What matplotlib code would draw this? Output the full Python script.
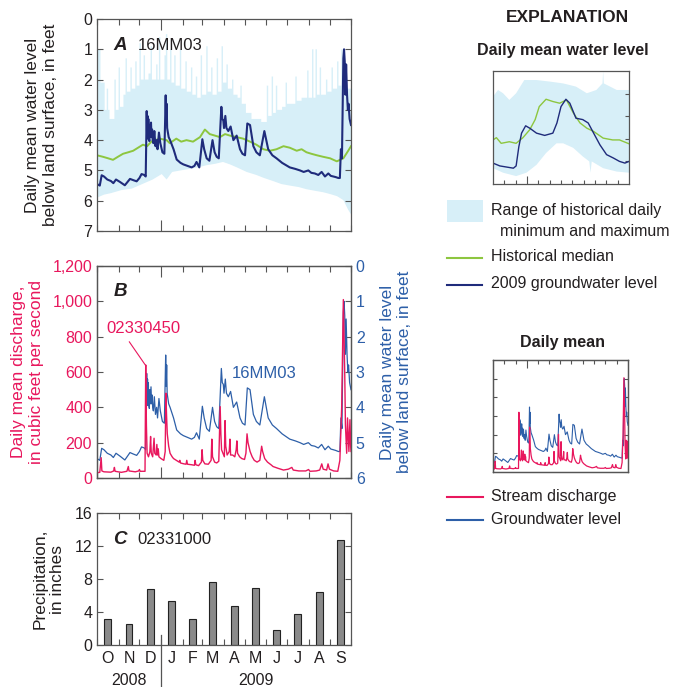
import numpy as np
import matplotlib
matplotlib.use("Agg")
import matplotlib.pyplot as plt
from matplotlib import cbook

plt.rcParams['font.family'] = ['Liberation Sans', 'DejaVu Sans']

# month boundaries, days since 1 Oct 2008
month_edges = [0, 31, 61, 92, 123, 151, 182, 212, 243, 273, 304, 335, 365]
month_letters = ['O', 'N', 'D', 'J', 'F', 'M', 'A', 'M', 'J', 'J', 'A', 'S']

# panel C: monthly precipitation, inches
precip = [3.2, 2.6, 6.8, 5.3, 3.1, 7.6, 4.7, 6.9, 1.8, 3.7, 6.4, 12.7]

# 2009 groundwater level, well 16MM03 (feet below land surface)
gw_days = [0, 4, 6.7, 10, 14.8, 20, 23.5, 27.3, 33, 40, 47.4, 52, 57, 61, 64, 68, 70,
           71.4, 72, 72.6, 73.2, 73.8, 74.4, 75.2, 76, 76.6, 77.6, 78.4, 79.2, 80, 81, 82.4,
           84, 85.7, 87, 89, 91, 94, 96.8, 98.7, 99.4, 100.1, 100.8, 101.5, 103, 105,
           110, 114.5, 120, 124, 130, 136, 140, 143, 147, 151.4, 154, 157.6, 161.5, 166,
           169, 172, 175, 178.7, 180, 181.5, 182.5, 184.4, 186, 188.7, 192, 196, 200.7,
           205.5, 209, 212.7, 216, 219.9, 224.7, 229, 234, 240.5, 246, 252, 258, 266, 277,
           285, 291.7, 297, 303.7, 308, 313, 318, 322.8, 327.6, 332.4, 336, 339.6, 343,
           346.8, 349, 350.5, 352, 354, 355, 356, 357, 358, 359.3, 360.5, 361.5, 363, 365]
gw_level = [5.45, 5.5, 5.16, 5.2, 5.3, 5.35, 5.42, 5.3, 5.38, 5.49, 5.28, 5.32, 5.36, 5.25,
            5.12, 5.15, 5.2,
            3.04, 3.9, 3.2, 3.95, 3.3, 3.9, 4.03, 3.5, 3.9, 3.42, 3.9, 3.65, 4.0, 4.1, 3.7,
            4.2, 4.0, 4.3, 3.75, 4.1, 4.4, 4.45, 2.52, 3.4, 2.8, 3.6, 3.7, 3.9, 4.0,
            4.3, 4.64, 4.75, 4.8, 4.85, 4.9, 4.85, 4.72, 4.9, 3.97, 4.3, 4.6, 4.68, 4.0,
            4.4, 4.55, 4.6, 2.9, 3.3, 3.35, 3.6, 3.2, 3.6, 3.7, 3.55, 4.0, 3.85,
            4.3, 4.45, 4.5, 3.45, 3.5, 4.2, 4.4, 4.5, 3.7, 4.3, 4.5, 4.6, 4.75, 4.9,
            4.95, 5.0, 5.05, 5.0, 5.08, 5.1, 5.15, 5.05, 5.2, 5.1, 5.18, 5.2, 5.22,
            5.25, 5.25, 4.3, 4.6, 1.3, 1.0, 1.4, 2.5, 1.5, 2.5, 3.0, 2.8, 3.3, 3.5]

# historical median (feet below land surface)
med_days = [0, 8.6, 16, 23, 30, 37.4, 45, 52, 59, 66, 72, 78, 84, 90, 100, 104.6, 114,
            121, 128.6, 138, 148, 155, 162, 169.4, 176.6, 184, 191, 200.6, 210, 220, 229,
            239, 248.6, 258, 268, 277, 287, 294, 301, 308, 316, 325, 335, 344.6, 354, 361, 365]
med_level = [4.5, 4.55, 4.6, 4.65, 4.55, 4.45, 4.4, 4.35, 4.25, 4.15, 4.2, 4.05, 4.0, 3.95,
             4.0, 4.1, 3.95, 4.05, 4.0, 4.05, 3.9, 3.65, 3.8, 3.85, 3.9, 3.8, 3.85, 3.9,
             3.95, 4.05, 4.15, 4.3, 4.35, 4.3, 4.2, 4.25, 4.35, 4.3, 4.4, 4.45, 4.5, 4.55,
             4.6, 4.7, 4.6, 4.35, 4.2]

# range of historical daily min (upper edge, held until next day listed) and max (lower edge)
hi_days = [0, 5, 11, 14, 16, 18, 25, 27, 31, 33, 38, 41, 43, 48, 50, 55, 57, 61, 63, 67,
           69, 74, 77, 79, 85, 87, 89, 91, 97, 99, 101, 105, 107, 111, 113, 119, 121, 127,
           129, 135, 137, 142, 144, 149, 151, 157, 159, 164, 166, 172, 174, 179, 181, 186,
           188, 194, 196, 202, 206, 208, 214, 222, 236, 244, 246, 251, 253, 257, 259, 266,
           271, 273, 281, 285, 287, 294, 302, 304, 309, 311, 314, 316, 320, 322, 329, 331,
           337, 339, 345, 347, 351, 353, 359, 365]
hi_level = [1.0, 2.1, 3.0, 2.3, 3.0, 3.3, 2.0, 3.0, 1.6, 2.9, 2.5, 1.3, 2.4, 1.6, 2.3, 1.4,
            2.2, 0.8, 2.0, 1.2, 2.0, 1.8, 0.9, 2.0, 1.5, 2.0, 0.6, 2.0, 1.2, 0.5, 2.0, 1.0,
            2.1, 1.2, 2.2, 1.0, 2.3, 1.4, 2.4, 1.6, 2.5, 1.9, 2.6, 1.2, 2.5, 0.9, 2.4, 1.6,
            2.5, 1.3, 2.4, 0.9, 2.1, 1.5, 2.3, 2.0, 2.5, 2.6, 2.2, 2.8, 3.1, 3.3, 3.4, 2.2,
            3.2, 1.9, 3.1, 2.2, 3.0, 2.9, 2.1, 2.8, 2.8, 1.9, 2.7, 2.6, 1.7, 2.6, 1.0, 2.6,
            1.0, 2.5, 1.6, 2.5, 2.0, 2.4, 1.6, 2.3, 1.4, 2.2, 1.0, 2.2, 2.3, 2.3]
lo_days = [0, 10, 20, 35, 50, 65, 80, 93, 100, 108, 120, 133, 145, 157, 170, 181, 191, 201,
           215, 229, 240, 253, 265, 277, 290, 301, 315, 325, 335, 345, 354, 361, 365]
lo_level = [5.9, 5.8, 5.75, 5.65, 5.6, 5.45, 5.3, 5.12, 5.3, 5.05, 5.0, 4.95, 4.9, 4.83,
            4.78, 4.72, 4.8, 4.9, 5.05, 5.15, 5.25, 5.35, 5.45, 5.5, 5.55, 5.62, 5.68, 5.72,
            5.78, 5.85, 5.98, 6.3, 6.45]

# stream discharge 02330450, cubic feet per second
q_days = [0, 4, 6, 7, 10, 20, 24, 25, 26, 35, 43, 45, 46, 55, 60, 61, 62, 69, 70, 71, 72,
          74, 76, 77, 78, 80, 82, 83, 85, 86, 87, 88, 89, 92, 96, 98, 99, 100, 101, 103, 105,
          108, 110, 114, 118, 119, 120, 125, 128, 129, 130, 136, 140, 141, 142, 146, 150,
          151, 152, 155, 160, 164, 165, 166, 169, 172, 175, 177, 178, 179, 181, 183, 184,
          185, 187, 190, 191, 192, 195, 198, 200, 201, 202, 205, 208, 212, 214, 215.6, 217,
          220, 223, 226, 230, 234, 236.6, 238, 241, 245, 250, 253, 260, 268, 275, 280, 282,
          290, 300, 304, 306, 315, 320, 323, 325, 330, 332, 334, 340, 346, 349, 351.6, 354,
          356, 357, 358.8, 360, 361, 362, 363.5, 364.5, 365]
q_cfs = [30, 32, 115, 40, 35, 33, 40, 60, 38, 32, 38, 65, 40, 35, 40, 48, 38, 38, 640, 300,
         140, 120, 150, 235, 140, 120, 225, 140, 130, 190, 130, 165, 120, 110, 100, 150, 480,
         350, 250, 180, 140, 120, 110, 100, 90, 100, 85, 80, 78, 100, 78, 75, 72, 100, 75, 70,
         90, 160, 100, 80, 78, 100, 220, 120, 90, 85, 95, 404, 250, 160, 140, 120, 325, 180,
         130, 150, 220, 130, 130, 120, 160, 210, 140, 120, 110, 105, 140, 250, 200, 150, 120,
         100, 90, 100, 180, 150, 110, 90, 75, 65, 55, 45, 50, 60, 45, 40, 40, 48, 38, 40, 45,
         80, 50, 45, 80, 50, 40, 38, 100, 400, 1010, 590, 300, 140, 340, 250, 150, 330, 180,
         150]

# explanation sketch (schematic units)
ex_x = [0, 2.5, 6, 12, 17, 22, 27, 31, 34, 39, 44, 49, 54, 59, 64, 69, 74, 81, 88, 93, 100]
ex_med = [61, 59, 64, 62.6, 64, 59, 52, 43, 31.5, 25, 27, 28.5, 25.6, 37, 46, 50.6, 53.5,
          59.4, 61, 61, 64.4]
ex_gw_x = [0, 5, 15, 17, 19, 21, 24, 27, 32, 38, 44, 47, 50, 53.6, 56.5, 61, 66, 70, 74,
           78.6, 83.5, 88.5, 93, 97, 100]
ex_gw = [81.5, 84, 86, 84, 67, 55, 48.5, 50.6, 55, 57, 55, 46, 31.5, 25, 28.5, 41.8, 43, 46,
         55, 65.3, 74, 77, 80, 81.5, 80]
ex_hi_x = [0, 3.7, 7.4, 12, 17, 23, 32, 42, 51.6, 61, 69, 76, 80.5, 81, 81.5, 91, 100]
ex_hi = [22.6, 16.8, 19.7, 25.6, 19.7, 8, 8, 9.4, 11, 13.8, 19.7, 16.8, 11, 0, 11, 16.8, 16.8]
ex_lo_x = [0, 7.4, 17, 24.6, 32, 39, 46.7, 51.6, 59, 66, 70.8, 71.7, 72.6, 81, 91, 100]
ex_lo = [86, 90, 93, 90, 83, 72.6, 64, 64, 68, 75.6, 80, 90, 80, 86, 89, 90]

RED = '#e8175d'
BLUE_B = '#2d5fa8'
NAVY = '#1f2b7b'
GREEN = '#8dc63f'
BAND = '#d7eff8'
FRAME = '#555555'
TXT = '#231f20'
TICK_FS = 11.5
LAB_FS = 12.5
LEG_FS = 11.5

fig = plt.figure(figsize=(6.73, 6.87), dpi=100)


def style_frame(ax):
    for s in ax.spines.values():
        s.set_color(FRAME)
        s.set_linewidth(0.9)
    ax.tick_params(direction='in', length=4, width=0.8, color=FRAME, labelsize=TICK_FS,
                   labelcolor=TXT)


def month_ticks(ax, top=True, bottom=True, jan_len=8):
    ax.set_xticks(month_edges)
    ax.set_xticklabels([])
    ax.tick_params(axis='x', top=top, bottom=bottom)
    t = ax.xaxis.get_major_ticks()[3]
    t.tick1line.set_markersize(jan_len)
    t.tick2line.set_markersize(jan_len)


# ---------- panel A ----------
axA = fig.add_axes([97 / 673, 1 - 231 / 687, 254 / 673, 212 / 687])
style_frame(axA)
sx, sy = cbook.pts_to_poststep(hi_days, hi_level)
axA.fill(np.r_[sx, lo_days[::-1]], np.r_[sy, lo_level[::-1]], color=BAND, lw=0)
axA.plot(med_days, med_level, color=GREEN, lw=1.4)
axA.plot(gw_days, gw_level, color=NAVY, lw=1.5)
axA.set_xlim(0, 365)
axA.set_ylim(7, 0)
axA.set_yticks(range(8))
axA.tick_params(axis='y', left=True, right=True)
month_ticks(axA)
axA.text(0.065, 0.875, 'A', transform=axA.transAxes, fontsize=13.5, fontweight='bold',
         fontstyle='italic', color=TXT, va='center')
axA.text(0.16, 0.875, '16MM03', transform=axA.transAxes, fontsize=12, color=TXT,
         va='center')
axA.text(-0.218, 0.5, 'Daily mean water level\nbelow land surface, in feet', rotation=90,
         ha='center', va='center', transform=axA.transAxes, fontsize=LAB_FS, color=TXT,
         linespacing=1.2)

# ---------- panel B ----------
axB = fig.add_axes([97 / 673, 1 - 478 / 687, 254 / 673, 212 / 687])
axB2 = axB.twinx()
style_frame(axB)
style_frame(axB2)
axB.set_zorder(axB2.get_zorder() + 1)
axB.patch.set_visible(False)
axB2.plot(gw_days, gw_level, color=BLUE_B, lw=0.9)
axB.plot(q_days, q_cfs, color=RED, lw=1.0)
axB.set_xlim(0, 365)
axB.set_ylim(0, 1200)
axB.set_yticks(range(0, 1201, 200))
axB.set_yticklabels(['{:,}'.format(v) for v in range(0, 1201, 200)])
axB.tick_params(axis='y', labelcolor=RED, right=False)
axB2.set_ylim(6, 0)
axB2.set_yticks(range(7))
axB2.tick_params(axis='y', labelcolor=BLUE_B)
month_ticks(axB)
axB.text(0.065, 0.88, 'B', transform=axB.transAxes, fontsize=13.5, fontweight='bold',
         fontstyle='italic', color=TXT, va='center')
axB.annotate('02330450', xy=(70.4, 634), xytext=(66.8, 849), color=RED, fontsize=12,
             ha='center', va='center',
             arrowprops=dict(arrowstyle='-', color=RED, lw=0.8, relpos=(0.25, 0),
                             shrinkA=3, shrinkB=0))
axB.text(194, 589, '16MM03', color=BLUE_B, fontsize=12, va='center')
axB.text(-0.274, 0.5, 'Daily mean discharge,\nin cubic feet per second', rotation=90,
         ha='center', va='center', transform=axB.transAxes, fontsize=LAB_FS, color=RED,
         linespacing=1.2)
axB.text(1.177, 0.5, 'Daily mean water level\nbelow land surface, in feet', rotation=90,
         ha='center', va='center', transform=axB.transAxes, fontsize=LAB_FS, color=BLUE_B,
         linespacing=1.2)

# ---------- panel C ----------
axC = fig.add_axes([97 / 673, 1 - 645 / 687, 254 / 673, 132 / 687])
style_frame(axC)
mid = [(month_edges[i] + month_edges[i + 1]) / 2 for i in range(12)]
axC.bar(mid, precip, width=10, color='#8a8a8a', edgecolor='#222222', lw=0.8)
axC.set_xlim(0, 365)
axC.set_ylim(0, 16)
axC.set_yticks([0, 4, 8, 12, 16])
axC.tick_params(axis='y', left=True, right=True)
axC.set_xticks(month_edges)
axC.set_xticklabels([])
axC.tick_params(axis='x', top=True, bottom=True)
axC.set_xticks(mid, minor=True)
axC.set_xticklabels(month_letters, minor=True)
axC.tick_params(axis='x', which='minor', length=0, labelsize=TICK_FS, pad=4, labelcolor=TXT)
axC.plot([92, 92], [0.076, -0.33], color=FRAME, lw=0.9, clip_on=False,
         transform=axC.get_xaxis_transform())
axC.text(46, -0.27, '2008', ha='center', va='center', fontsize=TICK_FS, color=TXT,
         transform=axC.get_xaxis_transform())
axC.text(228, -0.27, '2009', ha='center', va='center', fontsize=TICK_FS, color=TXT,
         transform=axC.get_xaxis_transform())
axC.text(0.065, 0.8, 'C', transform=axC.transAxes, fontsize=13.5, fontweight='bold',
         fontstyle='italic', color=TXT, va='center')
axC.text(0.16, 0.8, '02331000', transform=axC.transAxes, fontsize=12, color=TXT,
         va='center')
axC.text(-0.191, 0.5, 'Precipitation,\nin inches', rotation=90, ha='center', va='center',
         transform=axC.transAxes, fontsize=LAB_FS, color=TXT, linespacing=1.2)

# ---------- explanation ----------
fig.text(567 / 673, 1 - 18 / 687, 'EXPLANATION', ha='center', va='center', fontsize=12.5,
         fontweight='bold', color=TXT)
fig.text(563 / 673, 1 - 50 / 687, 'Daily mean water level', ha='center', va='center',
         fontsize=11.5, fontweight='bold', color=TXT)

axE1 = fig.add_axes([493 / 673, 1 - 184 / 687, 136 / 673, 113 / 687])
style_frame(axE1)
axE1.fill(np.r_[ex_hi_x, ex_lo_x[::-1]], np.r_[ex_hi, ex_lo[::-1]], color=BAND, lw=0)
axE1.plot(ex_x, ex_med, color=GREEN, lw=1.0)
axE1.plot(ex_gw_x, ex_gw, color=NAVY, lw=1.0)
axE1.set_xlim(0, 100)
axE1.set_ylim(100, 0)
axE1.set_xticks([100 * k / 12 for k in range(1, 12)])
axE1.set_yticks([20, 40, 60, 80])
axE1.tick_params(left=False, right=True, top=False, bottom=True, length=3,
                 labelleft=False, labelbottom=False)
axE1.xaxis.get_major_ticks()[2].tick1line.set_markersize(6)

fig.patches.append(plt.Rectangle((447 / 673, 1 - 222 / 687), 36 / 673, 22 / 687,
                                 transform=fig.transFigure, color=BAND, lw=0))
fig.text(491 / 673, 1 - 210 / 687, 'Range of historical daily', va='center',
         fontsize=LEG_FS, color=TXT)
fig.text(500 / 673, 1 - 231 / 687, 'minimum and maximum', va='center', fontsize=LEG_FS,
         color=TXT)
fig.lines.append(plt.Line2D([447 / 673, 482 / 673], [1 - 258 / 687] * 2, color=GREEN,
                            lw=1.5, transform=fig.transFigure))
fig.text(491 / 673, 1 - 257 / 687, 'Historical median', va='center', fontsize=LEG_FS,
         color=TXT)
fig.lines.append(plt.Line2D([447 / 673, 482 / 673], [1 - 285 / 687] * 2, color=NAVY,
                            lw=1.5, transform=fig.transFigure))
fig.text(491 / 673, 1 - 284 / 687, '2009 groundwater level', va='center', fontsize=LEG_FS,
         color=TXT)

fig.text(562 / 673, 1 - 343 / 687, 'Daily mean', ha='center', va='center', fontsize=11.5,
         fontweight='bold', color=TXT)
axE2 = fig.add_axes([493 / 673, 1 - 472 / 687, 135 / 673, 112 / 687])
axE2b = axE2.twinx()
style_frame(axE2)
style_frame(axE2b)
axE2.set_zorder(axE2b.get_zorder() + 1)
axE2.patch.set_visible(False)
axE2b.plot(gw_days, gw_level, color=BLUE_B, lw=0.8)
axE2.plot(q_days, q_cfs, color=RED, lw=0.9)
axE2.set_xlim(0, 365)
axE2.set_ylim(0, 1200)
axE2b.set_ylim(6, 0)
axE2.set_yticks(range(200, 1001, 200))
axE2b.set_yticks(range(1, 6))
axE2.set_xticks(month_edges[1:-1])
axE2.tick_params(left=True, right=False, top=True, bottom=False, length=3,
                 labelleft=False, labelbottom=False)
axE2b.tick_params(right=True, length=3, labelright=False)
axE2.xaxis.get_major_ticks()[2].tick2line.set_markersize(6)

fig.lines.append(plt.Line2D([447 / 673, 483 / 673], [1 - 497 / 687] * 2, color=RED,
                            lw=1.5, transform=fig.transFigure))
fig.text(491 / 673, 1 - 496 / 687, 'Stream discharge', va='center', fontsize=LEG_FS,
         color=TXT)
fig.lines.append(plt.Line2D([447 / 673, 483 / 673], [1 - 520 / 687] * 2, color=BLUE_B,
                            lw=1.5, transform=fig.transFigure))
fig.text(491 / 673, 1 - 519 / 687, 'Groundwater level', va='center', fontsize=LEG_FS,
         color=TXT)

fig.savefig('out.png', dpi=100)
